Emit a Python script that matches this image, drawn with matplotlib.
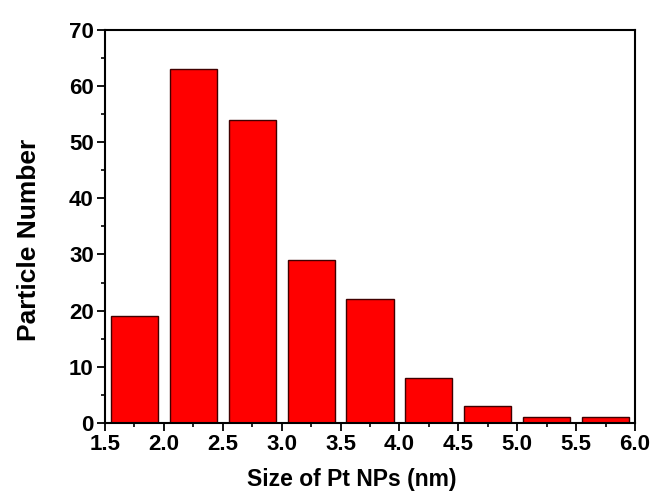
import matplotlib
matplotlib.use("Agg")
import matplotlib.pyplot as plt
from matplotlib.ticker import MultipleLocator

# Histogram of Pt nanoparticle sizes
bin_centers = [1.75, 2.25, 2.75, 3.25, 3.75, 4.25, 4.75, 5.25, 5.75]
counts = [19, 63, 54, 29, 22, 8, 3, 1, 1]
x_ticks = [1.5, 2.0, 2.5, 3.0, 3.5, 4.0, 4.5, 5.0, 5.5, 6.0]
y_ticks = [0, 10, 20, 30, 40, 50, 60, 70]

plt.rcParams["font.family"] = ["Liberation Sans", "DejaVu Sans"]
plt.rcParams["font.weight"] = "bold"

fig = plt.figure(figsize=(6.56, 4.97), dpi=100)
ax = fig.add_axes([0.160, 0.149, 0.808, 0.791])

ax.bar(bin_centers, counts, width=0.4, color="#ff0000",
       edgecolor="#400000", linewidth=1.0)

ax.set_xlim(1.5, 6.0)
ax.set_ylim(0, 70)
ax.set_xticks(x_ticks)
ax.set_xticklabels([f"{t:.1f}" for t in x_ticks])
ax.set_yticks(y_ticks)
ax.xaxis.set_minor_locator(MultipleLocator(0.25))
ax.yaxis.set_minor_locator(MultipleLocator(5))
ax.tick_params(which="major", direction="out", length=6, width=1.3,
               labelsize=16, pad=2, top=False, right=False)
ax.tick_params(which="minor", direction="out", length=3, width=1.2,
               top=False, right=False)
for spine in ax.spines.values():
    spine.set_linewidth(1.5)

ax.set_xlabel("Size of Pt NPs (nm)", fontsize=16.5, fontweight="bold", labelpad=9)
ax.set_ylabel("Particle Number", fontsize=19, fontweight="bold", labelpad=20)
# labels sit slightly off-centre in the original
ax.xaxis.label.set_x(0.465)
ax.yaxis.label.set_y(0.466)

fig.savefig("out.png", dpi=100)
